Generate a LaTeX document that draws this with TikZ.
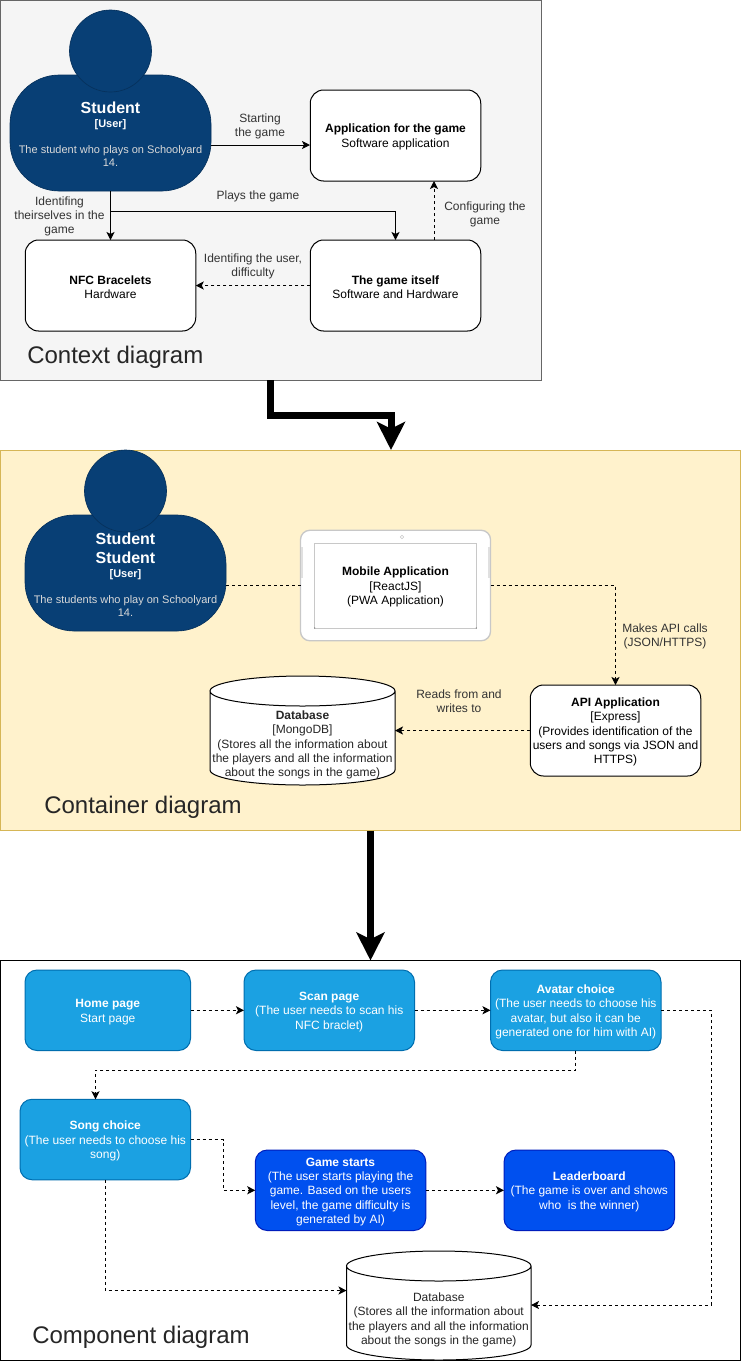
\documentclass[tikz,border=0pt]{standalone}
\usepackage{fontspec}
\setmainfont{Liberation Sans}
\usetikzlibrary{arrows.meta}

% ---------- colours ----------
\definecolor{ctxfill}{HTML}{F5F5F5}
\definecolor{ctxline}{HTML}{666666}
\definecolor{cntfill}{HTML}{FFF2CC}
\definecolor{cntline}{HTML}{D6B656}
\definecolor{personfill}{HTML}{083F75}
\definecolor{personline}{HTML}{06315C}
\definecolor{paleblue}{HTML}{1BA1E2}
\definecolor{paleline}{HTML}{006EAF}
\definecolor{deepblue}{HTML}{0050EF}
\definecolor{deepline}{HTML}{001DBC}
\definecolor{tabletline}{HTML}{C8C8C8}
\definecolor{labelgray}{HTML}{333333}

\newcommand{\txtnormal}{\fontsize{9}{10.8}\selectfont}
\newcommand{\txtdesc}{\fontsize{8.25}{9.75}\selectfont\color{black!15}}
\newcommand{\txtuser}{\fontsize{8.25}{9.75}\selectfont\bfseries}
\newcommand{\txtname}{\fontsize{12}{14.2}\selectfont\bfseries}
\newcommand{\txtpanel}{\fontsize{18}{21}\selectfont}
% pushes a box text down a little
\newcommand{\lift}{\rule{0pt}{8.8pt}}

\tikzset{
  boxsize/.style 2 args={minimum width=#1*0.75pt,minimum height=#2*0.75pt},
  panel/.style={draw,inner sep=0pt,outer sep=0pt,line width=0.75pt},
  whitebox/.style={draw=black,fill=white,rounded corners=10pt,line width=0.75pt,align=center,
    inner sep=0pt,outer sep=0pt,font=\txtnormal,boxsize={170.5}{91}},
  pagebox/.style={rounded corners=9pt,line width=0.75pt,align=center,text=white,
    inner sep=0pt,outer sep=0pt,font=\txtnormal,boxsize={170.5}{80.5}},
  lightpage/.style={pagebox,draw=paleline,fill=paleblue},
  darkpage/.style={pagebox,draw=deepline,fill=deepblue},
  personbody/.style={draw=personline,fill=personfill,rounded corners=37pt,line width=0.5pt,
    inner sep=0pt,outer sep=0pt,boxsize={201}{116}},
  personhead/.style={circle,draw=personline,fill=personfill,line width=0.5pt,
    inner sep=0pt,outer sep=0pt,minimum size=61.5pt},
  persontext/.style={align=center,text=white,inner sep=0pt,font=\fontsize{8.25}{9.75}\selectfont},
  flowtext/.style={align=center,font=\txtnormal,text=labelgray,inner sep=0pt,yshift=-1.1pt},
  paneltext/.style={anchor=west,font=\txtpanel,text=black!85,inner sep=0pt,yshift=-1.5pt},
  flow/.style={line width=0.75pt,-{Stealth[length=6pt,width=6pt,inset=1.5pt]}},
  dashflow/.style={flow,dash pattern=on 2.25pt off 2.25pt},
  plaindash/.style={line width=0.75pt,dash pattern=on 2.25pt off 2.25pt},
  bigflow/.style={line width=5.25pt,-{Stealth[length=21pt,width=21pt,inset=5pt]}},
}

% drum(pic): name, centre x, top y, width, height, text
\newcommand{\drum}[6]{%
  \draw[fill=white,line width=0.75pt] (#2-#4/2,#3+15) -- (#2-#4/2,#3+#5-15)
    arc (180:0:#4/2 and 15) -- (#2+#4/2,#3+15)
    arc (0:-180:#4/2 and 15) arc (180:0:#4/2 and 15);
  \node[inner sep=0pt,outer sep=0pt,boxsize={#4}{#5}] (#1) at (#2,#3+#5/2) {};
  \node[align=center,font=\txtnormal,inner sep=0pt,text=black!85] (#1text) at (#2,#3+#5/2+14.5) {#6};
}

\begin{document}
\begin{tikzpicture}[x=0.75pt,y=-0.75pt]
\useasboundingbox (0,0) rectangle (741,1361);

% ---------- panels ----------
\node[panel,draw=ctxline,fill=ctxfill,boxsize={540.5}{380},anchor=north west] (context) at (0.5,0.5) {};
\node[panel,draw=cntline,fill=cntfill,boxsize={740}{380},anchor=north west] (container) at (0.5,450.5) {};
\node[panel,draw=black,fill=white,boxsize={740}{399.5},anchor=north west] (component) at (0.5,960.5) {};

% ---------- context diagram ----------
\node[personbody] (student) at (110.5,133) {};
\node[personhead] (studenthead) at (110.5,51) {};
\node[persontext] (studenttext) at (110.5,134) {%
  \txtname Student\\[0.75pt]
  \txtuser [User]\\[9.75pt]
  \txtdesc The student who plays on Schoolyard\\
  \txtdesc 14.};

\node[whitebox] (app) at (395.5,135.5) {\lift\textbf{Application for the game}\\Software application};
\node[whitebox] (nfc) at (110.5,285.5) {\lift\textbf{NFC Bracelets}\\Hardware};
\node[whitebox] (game) at (395.5,285.5) {\lift\textbf{The game itself}\\Software and Hardware};

\coordinate (apphit) at (310,145);
\coordinate (split) at (110.5,211);
\coordinate (gameup) at (434,240);
\draw[flow] (student.east |- apphit) -- (apphit);
\draw[flow] (student.south) -- (nfc.north);
\draw[flow] (split) -| (game.north);
\draw[dashflow] (gameup) -- (gameup |- app.south);
\draw[dashflow] (game.west) -- (nfc.east);

\node[flowtext] (startlabel) at (260,125) {Starting\\the game};
\node[flowtext] (playlabel) at (258,195) {Plays the game};
\node[flowtext] (identlabel) at (59.5,215) {Identifing\\theirselves in the\\game};
\node[flowtext] (difflabel) at (253,265) {Identifing the user,\\difficulty};
\node[flowtext] (configlabel) at (485,213) {Configuring the\\game};
\node[paneltext] (contextname) at (27,355) {Context diagram};

% ---------- panel arrows ----------
\coordinate (ctxout) at (270,380);
\coordinate (cntin) at (391,450);
\coordinate (bend) at (391,415);
\draw[bigflow] (ctxout) |- (bend) -- (cntin);
\draw[bigflow] (container.south) -- (component.north);

% ---------- container diagram ----------
\node[personbody] (user) at (125.5,573) {};
\node[personhead] (userhead) at (125.5,491) {};
\node[persontext] (usertext) at (125.5,574.5) {%
  \txtname Student\\[4.5pt]
  \txtname Student\\[0.75pt]
  \txtuser [User]\\[9.75pt]
  \txtdesc The students who play on Schoolyard\\
  \txtdesc 14.};

\node[draw=tabletline,fill=white,rounded corners=7pt,line width=1pt,inner sep=0pt,outer sep=0pt,
  boxsize={190}{110.5}] (tablet) at (395.5,585.5) {};
\node[draw=tabletline,fill=white,line width=0.75pt,align=center,inner sep=0pt,outer sep=0pt,
  font=\txtnormal,boxsize={161.5}{85}] (mobile) at (395.5,585.5) {\lift\textbf{Mobile Application}\\{}[ReactJS]\\(PWA Application)};
\node[circle,draw=tabletline,inner sep=0pt,minimum size=2.5pt] (camera) at (402,537) {};
\node[circle,fill=black!60,inner sep=0pt,minimum size=1pt] (cornerleft) at (mobile.south west) {};
\node[circle,fill=black!60,inner sep=0pt,minimum size=1pt] (cornerright) at (mobile.south east) {};
\draw[black!12,line width=1pt] (302,547) -- (302,578);
\draw[black!12,line width=1pt] (489,547) -- (489,578);

\node[whitebox] (api) at (615.5,730.5) {\lift\textbf{API Application}\\{}[Express]\\(Provides identification of the\\users and songs via JSON and\\HTTPS)};
\drum{mongo}{302.5}{676}{185}{109}{\textbf{Database}\\{}[MongoDB]\\(Stores all the information about\\the players and all the information\\about the songs in the game)}

\draw[plaindash] (user.east |- tablet.west) -- (tablet.west);
\draw[dashflow] (tablet.east) -| (api.north);
\draw[dashflow] (api.west) -- (mongo.east);

\node[flowtext] (callslabel) at (665,635) {Makes API calls\\(JSON/HTTPS)};
\node[flowtext] (readslabel) at (459,700) {Reads from and\\writes to};
\node[paneltext] (containername) at (44,805) {Container diagram};

% ---------- component diagram ----------
\node[lightpage,boxsize={165.5}{80.5}] (home) at (107.75,1010.25) {\lift\textbf{Home page}\\Start page};
\node[lightpage] (scan) at (329.25,1010.25) {\lift\textbf{Scan page}\\(The user needs to scan his\\NFC braclet)};
\node[lightpage] (avatar) at (575.75,1010.25) {\lift\textbf{Avatar choice}\\(The user needs to choose his\\avatar, but also it can be\\generated one for him with AI)};
\node[lightpage] (song) at (105.25,1139.5) {\lift\textbf{Song choice}\\(The user needs to choose his\\song)};
\node[darkpage] (start) at (340.5,1190.25) {\lift\textbf{Game starts}\\(The user starts playing the\\game. Based on the users\\level, the game difficulty is\\generated by AI)};
\node[darkpage] (board) at (589.25,1190.25) {\lift\textbf{Leaderboard}\\(The game is over and shows\\who\ \ is the winner)};
\drum{store}{438.75}{1251}{184.5}{109}{Database\\(Stores all the information about\\the players and all the information\\about the songs in the game)}

\coordinate (songin) at (95.5,1099.25);
\coordinate (storeleft) at (346.5,1290.5);
\coordinate (storeright) at (531,1305);
\coordinate (rightrun) at (711,1010.25);
\coordinate (songturn) at (223,1139.5);
\draw[dashflow] (home.east) -- (scan.west);
\draw[dashflow] (scan.east) -- (avatar.west);
\draw[dashflow] (avatar.south) |- (95.5,1070) -- (songin);
\draw[dashflow] (song.east) -| (songturn |- start.west) -- (start.west);
\draw[dashflow] (start.east) -- (board.west);
\draw[dashflow] (song.south) |- (storeleft);
\draw[dashflow] (avatar.east) -- (rightrun) |- (storeright);

\node[paneltext] (componentname) at (32,1335) {Component diagram};

\end{tikzpicture}
\end{document}
